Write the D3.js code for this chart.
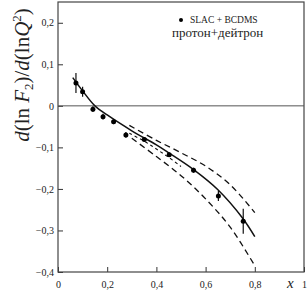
<!DOCTYPE html>
<html>
<head>
<meta charset="utf-8">
<script src="https://cdn.jsdelivr.net/npm/d3@7"></script>
<style>
body { margin: 0; background: #fff; }
text { font-family: "Liberation Serif", "DejaVu Serif", serif; fill: #222; }
</style>
</head>
<body>
<svg width="307" height="297"></svg>
<script>
var svg = d3.select("svg");

// Data
var pointX = [0.073, 0.1, 0.142, 0.183, 0.226, 0.276, 0.351, 0.452, 0.551, 0.652, 0.753];
var pointY = [0.055, 0.034, -0.008, -0.026, -0.038, -0.07, -0.081, -0.118, -0.155, -0.217, -0.278];
var pointErr = [0.024, 0.012, 0.007, 0.007, 0.006, 0.007, 0.005, 0.005, 0.006, 0.012, 0.03];

var fitX = [0.06, 0.1, 0.15, 0.2, 0.3, 0.4, 0.45, 0.55, 0.65, 0.75, 0.8];
var fitY = [0.068, 0.036, 0.0, -0.022, -0.06, -0.094, -0.113, -0.153, -0.202, -0.27, -0.315];

var upperX = [0.29, 0.4, 0.5, 0.6, 0.7, 0.8];
var upperY = [-0.047, -0.083, -0.113, -0.145, -0.19, -0.257];

var lowerX = [0.3, 0.4, 0.5, 0.6, 0.7, 0.8];
var lowerY = [-0.078, -0.122, -0.168, -0.224, -0.292, -0.385];

var innerX = [0.29, 0.35, 0.4, 0.45, 0.5];
var innerY = [-0.066, -0.085, -0.104, -0.124, -0.146];

var xTicks = [0, 0.2, 0.4, 0.6, 0.8, 1];
var yTicks = [0.2, 0.1, 0, -0.1, -0.2, -0.3, -0.4];

// Plot box
var plotLeft = 58, plotRight = 304, plotTop = 2, plotBottom = 272;
var xScale = d3.scaleLinear().domain([0, 1]).range([plotLeft, plotRight]);
var yScale = d3.scaleLinear().domain([-0.4, 0.25]).range([plotBottom, plotTop]);

var fmt = function (d) {
    if (d === 0) return "0";
    if (d === 1) return "1";
    return (d < 0 ? "\u2212" : "") + d3.format(".1f")(Math.abs(d)).replace(".", ",");
};

// Axes (ticks inside)
var xAxis = d3.axisBottom(xScale).tickValues(xTicks).tickSize(-5).tickPadding(9).tickFormat(fmt);
var yAxis = d3.axisLeft(yScale).tickValues(yTicks).tickSize(-5).tickPadding(4).tickFormat(fmt);

var xg = svg.append("g")
    .attr("transform", "translate(0," + plotBottom + ")")
    .call(xAxis);
xg.select(".domain").remove();
xg.selectAll("text")
    .style("font-family", "'Liberation Serif', serif")
    .style("font-size", "10px").attr("fill", "#333");

var yg = svg.append("g")
    .attr("transform", "translate(" + plotLeft + ",0)")
    .call(yAxis);
yg.select(".domain").remove();
yg.selectAll("text")
    .style("font-family", "'Liberation Serif', serif")
    .style("font-size", "10px").attr("fill", "#333");

svg.selectAll(".tick line").attr("stroke", "#333");

// Frame
svg.append("rect")
    .attr("x", plotLeft).attr("y", plotTop)
    .attr("width", plotRight - plotLeft).attr("height", plotBottom - plotTop)
    .attr("fill", "none").attr("stroke", "#444").attr("stroke-width", 1.2);

// Zero line
svg.append("line")
    .attr("x1", plotLeft).attr("x2", plotRight)
    .attr("y1", yScale(0)).attr("y2", yScale(0))
    .attr("stroke", "#555").attr("stroke-width", 1);

// Curves
var line = d3.line()
    .x(d => xScale(d[0]))
    .y(d => yScale(d[1]))
    .curve(d3.curveCatmullRom);

function pairs(xs, ys) { return xs.map((x, i) => [x, ys[i]]); }

svg.append("path")
    .attr("d", line(pairs(fitX, fitY)))
    .attr("fill", "none").attr("stroke", "#111").attr("stroke-width", 1.5);

svg.append("path")
    .attr("d", line(pairs(upperX, upperY)))
    .attr("fill", "none").attr("stroke", "#111").attr("stroke-width", 1.3)
    .attr("stroke-dasharray", "6,4");

svg.append("path")
    .attr("d", line(pairs(lowerX, lowerY)))
    .attr("fill", "none").attr("stroke", "#111").attr("stroke-width", 1.3)
    .attr("stroke-dasharray", "6,4");

svg.append("path")
    .attr("d", line(pairs(innerX, innerY)))
    .attr("fill", "none").attr("stroke", "#111").attr("stroke-width", 1.1)
    .attr("stroke-dasharray", "3,3");

// Points with error bars
var pts = pointX.map((x, i) => ({ x: x, y: pointY[i], e: pointErr[i] }));

svg.selectAll(".err").data(pts).enter().append("line")
    .attr("class", "err")
    .attr("x1", d => xScale(d.x)).attr("x2", d => xScale(d.x))
    .attr("y1", d => yScale(d.y + d.e)).attr("y2", d => yScale(d.y - d.e))
    .attr("stroke", "#111").attr("stroke-width", 1.2);

svg.selectAll(".dot").data(pts).enter().append("circle")
    .attr("class", "dot")
    .attr("cx", d => xScale(d.x)).attr("cy", d => yScale(d.y))
    .attr("r", 2.5).attr("fill", "#000");

// Legend
svg.append("circle").attr("cx", 181).attr("cy", 20).attr("r", 2).attr("fill", "#000");
svg.append("text").attr("x", 190).attr("y", 23).style("font-size", "9.5px").text("SLAC + BCDMS");
svg.append("text").attr("x", 172).attr("y", 37).style("font-size", "13px").text("протон+дейтрон");

// Axis titles
svg.append("text")
    .attr("x", 287).attr("y", 288)
    .style("font-size", "15px").style("font-style", "italic")
    .text("x");

var yl = svg.append("text")
    .attr("transform", "translate(29,75) rotate(-90)")
    .attr("text-anchor", "middle")
    .style("font-size", "21px");
yl.append("tspan").style("font-style", "italic").text("d");
yl.append("tspan").text("(ln ");
yl.append("tspan").style("font-style", "italic").text("F");
yl.append("tspan").attr("dy", 4).style("font-size", "13px").text("2");
yl.append("tspan").attr("dy", -4).text(")/");
yl.append("tspan").style("font-style", "italic").text("d");
yl.append("tspan").text("(ln");
yl.append("tspan").style("font-style", "italic").text("Q");
yl.append("tspan").attr("dy", -8).style("font-size", "13px").text("2");
yl.append("tspan").attr("dy", 8).text(")");
</script>
</body>
</html>
